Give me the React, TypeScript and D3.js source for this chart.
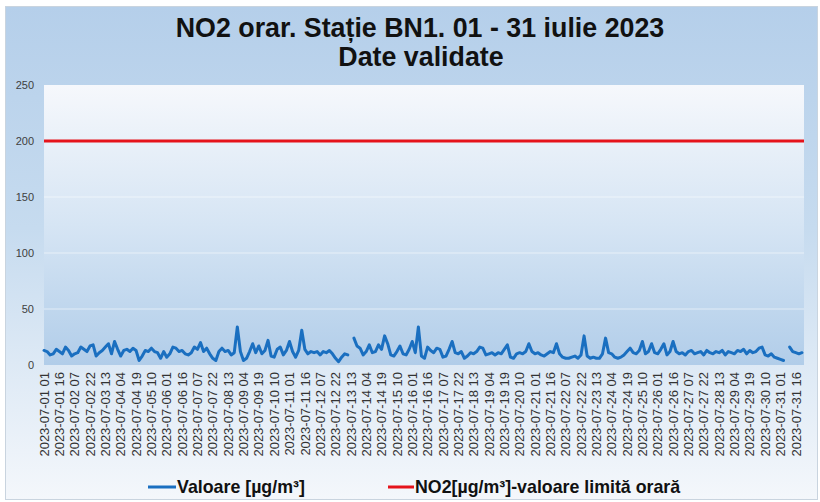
import React from "react";
import * as d3 from "d3";

const TITLE_1 = "NO2 orar. Stație BN1. 01 - 31 iulie 2023";
const TITLE_2 = "Date validate";
const LEGEND_SERIES = "Valoare [µg/m³]";
const LEGEND_LIMIT = "NO2[µg/m³]-valoare limită orară";

const TOTAL_HOURS = 744;
const SAMPLE_STEP_HOURS = 3;
const LABEL_STEP_HOURS = 15;
const LABEL_COUNT = 50;
const START_UTC = Date.UTC(2023, 6, 1, 1);
const LIMIT_VALUE = 200;
const Y_TICKS = [0, 50, 100, 150, 200, 250];

// NO2 concentration, read every 3 hours from the picture (null = missing)
const NO2_VALUES: (number | null)[] = [
  13, 12, 9, 10, 14, 12, 10, 16, 13, 8,
  10, 11, 16, 14, 12, 17, 18, 8, 11, 13,
  16, 19, 10, 21, 14, 8, 13, 14, 12, 15,
  13, 4, 8, 13, 12, 15, 12, 11, 6, 12,
  7, 10, 16, 15, 12, 13, 10, 9, 11, 16,
  14, 20, 12, 15, 10, 6, 4, 12, 15, 12,
  13, 9, 11, 34, 12, 4, 6, 12, 19, 11,
  17, 10, 13, 22, 8, 7, 14, 16, 9, 13,
  21, 12, 7, 13, 31, 14, 10, 12, 11, 12,
  9, 12, 11, 13, 10, 6, 3, 7, 10, 9,
  null, 24, 17, 15, 9, 12, 18, 11, 12, 18,
  14, 26, 19, 9, 8, 12, 17, 10, 9, 14,
  21, 11, 34, 8, 6, 16, 13, 11, 15, 14,
  7, 8, 14, 21, 11, 10, 12, 6, 8, 11,
  10, 12, 16, 15, 9, 10, 11, 9, 11, 10,
  14, 18, 7, 6, 10, 11, 10, 12, 19, 12,
  10, 11, 9, 8, 10, 12, 11, 19, 10, 7,
  6, 6, 7, 8, 6, 9, 26, 8, 6, 7,
  6, 6, 10, 24, 11, 10, 7, 6, 7, 9,
  12, 15, 11, 10, 13, 21, 10, 12, 19, 11,
  10, 14, 19, 9, 12, 21, 12, 10, 11, 9,
  12, 13, 10, 11, 12, 9, 13, 11, 10, 12,
  11, 13, 9, 12, 11, 10, 13, 12, 14, 10,
  13, 11, 12, 15, 16, 9, 8, 10, 7, 6,
  5, 4, null, 16, 12, 11, 10, 11,
];

const X_LABELS: string[] = d3
  .range(LABEL_COUNT)
  .map((j) =>
    d3.utcFormat("%Y-%m-%d %H")(d3.utcHour.offset(new Date(START_UTC), j * LABEL_STEP_HOURS))
  );

const W = 820;
const H = 502;
const PLOT = { left: 44, right: 804, top: 85, bottom: 365 };
const FONT = "'Liberation Sans', Arial, Helvetica, sans-serif";

export default function App() {
  const x = d3.scaleLinear().domain([0, TOTAL_HOURS - 1]).range([PLOT.left, PLOT.right]);
  const y = d3.scaleLinear().domain([0, 250]).range([PLOT.bottom, PLOT.top]);

  const line = d3
    .line<number | null>()
    .defined((d) => d !== null)
    .x((_, i) => x(i * SAMPLE_STEP_HOURS))
    .y((d) => y(d as number));

  return (
    <svg
      width={W}
      height={H}
      style={{ position: "absolute", left: 0, top: 0 }}
      fontFamily={FONT}
    >
      <defs>
        <linearGradient id="outerBg" x1="0" y1="0" x2="0" y2="1">
          <stop offset="0%" stopColor="#b5cfea" />
          <stop offset="45%" stopColor="#c6dbef" />
          <stop offset="72%" stopColor="#dde9f5" />
          <stop offset="100%" stopColor="#f4f7fb" />
        </linearGradient>
        <linearGradient id="plotBg" x1="0" y1="0" x2="0" y2="1">
          <stop offset="0%" stopColor="#f6f8fc" />
          <stop offset="50%" stopColor="#d6e5f4" />
          <stop offset="100%" stopColor="#b1cde9" />
        </linearGradient>
      </defs>
      <rect x={0} y={0} width={W} height={H} fill="#ffffff" />
      <rect x={5.5} y={6.5} width={812} height={493} fill="url(#outerBg)" stroke="#c9d4df" strokeWidth={1} />
      <rect
        x={PLOT.left}
        y={PLOT.top}
        width={PLOT.right - PLOT.left}
        height={PLOT.bottom - PLOT.top}
        fill="url(#plotBg)"
      />

      {Y_TICKS.map((t) => (
        <g key={t}>
          {t > 0 && t < 250 && (
            <line
              x1={PLOT.left}
              x2={PLOT.right}
              y1={y(t)}
              y2={y(t)}
              stroke="#ffffff"
              strokeOpacity={0.55}
              strokeWidth={1}
            />
          )}
          <text x={34} y={y(t)} dy="0.35em" textAnchor="end" fontSize={11} fill="#404040">
            {t}
          </text>
        </g>
      ))}

      <line
        x1={PLOT.left}
        x2={PLOT.right}
        y1={y(LIMIT_VALUE)}
        y2={y(LIMIT_VALUE)}
        stroke="#e5131b"
        strokeWidth={3}
      />

      <path
        d={line(NO2_VALUES) || ""}
        fill="none"
        stroke="#1a6fc0"
        strokeWidth={3}
        strokeLinejoin="round"
        strokeLinecap="round"
      />

      {X_LABELS.map((lab, j) => {
        const px = x(j * LABEL_STEP_HOURS);
        const py = 372;
        return (
          <text
            key={lab}
            transform={`translate(${px},${py}) rotate(-90)`}
            dy="0.36em"
            textAnchor="end"
            fontSize={13}
            fill="#333333"
          >
            {lab}
          </text>
        );
      })}

      <text x={420} y={37} textAnchor="middle" fontSize={26.8} fontWeight="bold" fill="#111111">
        {TITLE_1}
      </text>
      <text x={421} y={66} textAnchor="middle" fontSize={26.8} fontWeight="bold" fill="#111111">
        {TITLE_2}
      </text>

      <line x1={148} x2={176} y1={487} y2={487} stroke="#1a6fc0" strokeWidth={3} />
      <text x={177} y={493} fontSize={17.8} fontWeight="bold" fill="#111111">
        {LEGEND_SERIES}
      </text>
      <line x1={388} x2={414} y1={487} y2={487} stroke="#e5131b" strokeWidth={3} />
      <text x={415} y={493} fontSize={17.8} fontWeight="bold" fill="#111111">
        {LEGEND_LIMIT}
      </text>
    </svg>
  );
}
